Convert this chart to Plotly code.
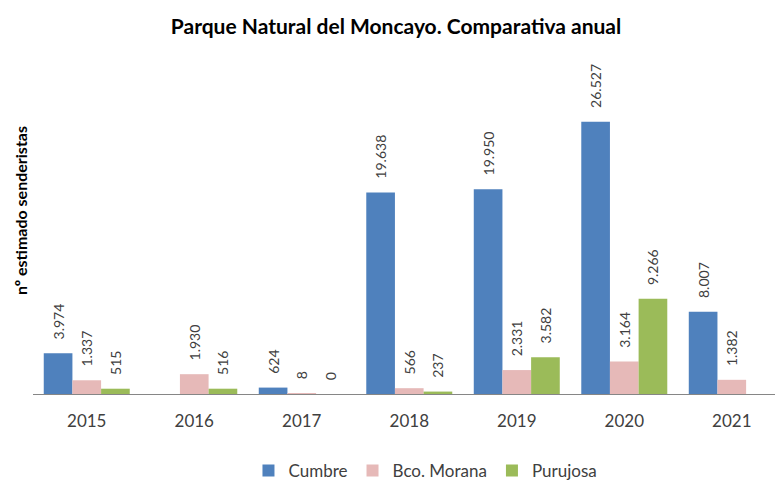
import plotly.graph_objects as go

# Visitor estimates per year and trailhead
years = ["2015", "2016", "2017", "2018", "2019", "2020", "2021"]
cumbre = [3974, None, 624, 19638, 19950, 26527, 8007]
bco_morana = [1337, 1930, 8, 566, 2331, 3164, 1382]
purujosa = [515, 516, 0, 237, 3582, 9266, None]

series = [
    ("Cumbre", cumbre, "#4F81BD"),
    ("Bco. Morana", bco_morana, "#E6B9B8"),
    ("Purujosa", purujosa, "#9BBB59"),
]

FONT = "Lato, Open Sans, sans-serif"
NBSP = "\u00a0"

fig = go.Figure()
for name, vals, color in series:
    fig.add_trace(go.Bar(
        x=years,
        y=vals,
        name=name,
        marker=dict(color=color, line=dict(width=0)),
        # leading non-breaking spaces lift the rotated label off the bar top
        texttemplate=NBSP * 3 + "%{y:,}",
        textposition="outside",
        textangle=-90,
        textfont=dict(family=FONT, size=14, color="#404040"),
        cliponaxis=False,
        constraintext="none",
    ))

fig.update_layout(
    width=775,
    height=481,
    barmode="group",
    bargap=0.2,
    bargroupgap=0,
    separators=",.",
    plot_bgcolor="white",
    paper_bgcolor="white",
    margin=dict(l=33, r=0, t=86, b=87),
    font=dict(family=FONT, color="#404040"),
    title=dict(
        text="<b>Parque Natural del Moncayo. Comparativa anual</b>",
        x=0.511, xanchor="center",
        y=0.944, yanchor="middle",
        font=dict(family=FONT, size=21, color="#000000"),
    ),
    xaxis=dict(
        type="category",
        range=[-0.5, 6.402],
        showline=True,
        linecolor="#868686",
        linewidth=1,
        ticks="",
        ticklabelstandoff=12,
        tickfont=dict(family=FONT, size=17, color="#404040"),
        showgrid=False,
    ),
    yaxis=dict(
        range=[0, 30000],
        visible=False,
        showgrid=False,
        zeroline=False,
    ),
    legend=dict(
        orientation="h",
        xref="container", x=0.549, xanchor="center",
        yref="container", y=0.021, yanchor="middle",
        font=dict(family=FONT, size=17, color="#404040"),
        traceorder="normal",
    ),
    annotations=[dict(
        text="<b>nº estimado senderistas</b>",
        xref="paper", yref="paper",
        x=-0.0175, y=0.594,
        xanchor="center", yanchor="middle",
        textangle=-90,
        showarrow=False,
        font=dict(family=FONT, size=16, color="#000000"),
    )],
)

fig.write_html("out.html")
